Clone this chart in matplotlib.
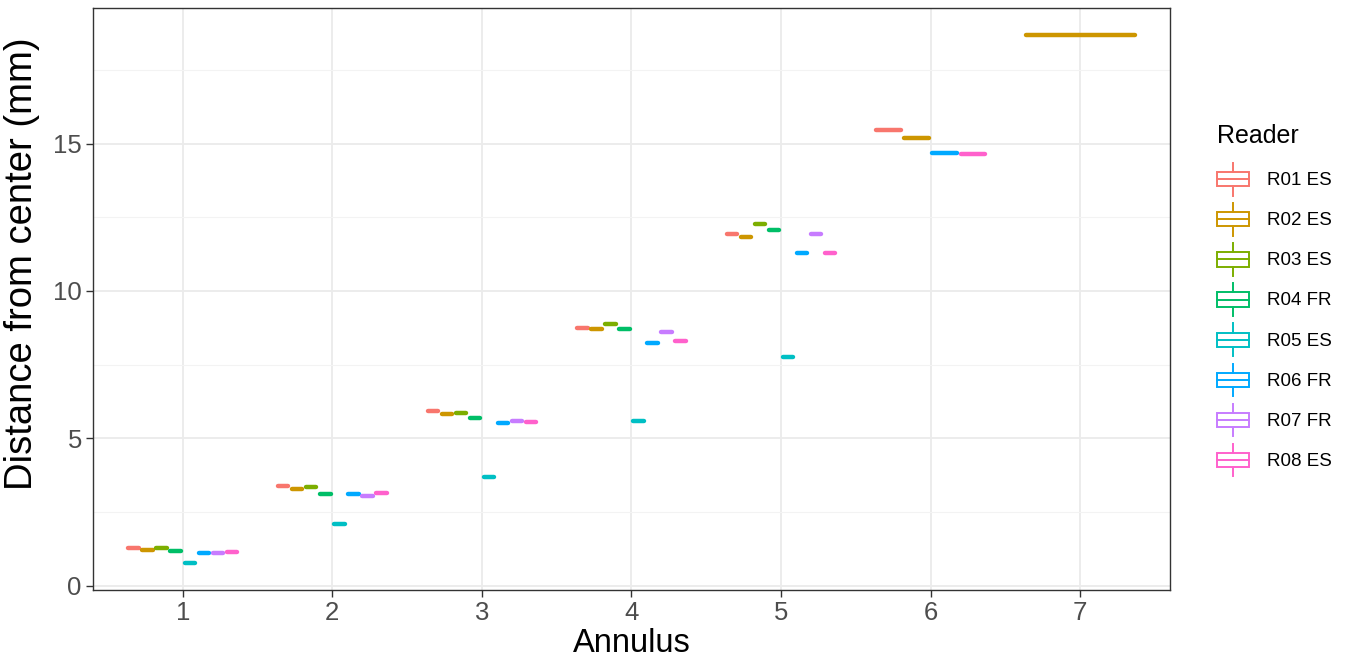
import numpy as np
import matplotlib
matplotlib.use("Agg")
import matplotlib.pyplot as plt
from matplotlib.legend_handler import HandlerBase
from matplotlib.patches import Rectangle
from matplotlib.lines import Line2D

plt.rcParams['font.family'] = ['Liberation Sans', 'DejaVu Sans']

annuli = [1, 2, 3, 4, 5, 6, 7]
readers = ["R01 ES", "R02 ES", "R03 ES", "R04 FR", "R05 ES", "R06 FR", "R07 FR", "R08 ES"]
colors = ["#F8766D", "#CD9600", "#7CAE00", "#00BE67", "#00BFC4", "#00A9FF", "#C77CFF", "#FF61CC"]

nan = np.nan
r01 = [1.29, 3.37, 5.92, 8.74, 11.93, 15.47, nan]
r02 = [1.21, 3.29, 5.83, 8.71, 11.83, 15.18, 18.67]
r03 = [1.29, 3.34, 5.85, 8.88, 12.26, nan, nan]
r04 = [1.16, 3.11, 5.67, 8.71, 12.07, nan, nan]
r05 = [0.76, 2.09, 3.67, 5.58, 7.77, nan, nan]
r06 = [1.12, 3.10, 5.50, 8.22, 11.29, 14.67, nan]
r07 = [1.10, 3.05, 5.59, 8.62, 11.94, nan, nan]
r08 = [1.15, 3.15, 5.54, 8.30, 11.30, 14.63, nan]
values = [r01, r02, r03, r04, r05, r06, r07, r08]


class BoxKey(HandlerBase):
    def create_artists(self, legend, orig, xd, yd, w, h, fontsize, trans):
        c = orig.get_color()
        x0, y0 = -xd, -yd
        box = Rectangle((x0, y0 + h * 0.28), w, h * 0.44, fill=False,
                        edgecolor=c, lw=1.4, transform=trans)
        med = Line2D([x0, x0 + w], [y0 + h * 0.5] * 2, color=c, lw=1.4, transform=trans)
        top = Line2D([x0 + w / 2] * 2, [y0 + h * 0.72, y0 + h * 1.0], color=c, lw=1.4, transform=trans)
        bot = Line2D([x0 + w / 2] * 2, [y0, y0 + h * 0.28], color=c, lw=1.4, transform=trans)
        return [box, med, top, bot]


fig = plt.figure(figsize=(13.55, 6.68), dpi=100)
ax = fig.add_axes([0.0686, 0.1168, 0.7949, 0.8712])

# dodge boxes within each annulus, width 0.75 shared by readers present
for j, a in enumerate(annuli):
    present = [i for i in range(len(readers)) if not np.isnan(values[i][j])]
    w = 0.75 / len(present)
    for k, i in enumerate(present):
        pos = a - 0.375 + (k + 0.5) * w
        half = w / 2 - 0.012
        ax.hlines(values[i][j], pos - half, pos + half, colors=colors[i],
                  linewidth=3.2, capstyle='round', zorder=3)

handles = [Line2D([], [], color=c) for c in colors]

ax.set_xlim(0.4, 7.6)
ax.set_ylim(-0.15, 19.6)
ax.set_xticks(annuli)
ax.set_xticklabels([str(a) for a in annuli])
ax.set_yticks([0, 5, 10, 15])
ax.set_yticks([2.5, 7.5, 12.5, 17.5], minor=True)
ax.grid(True, which='major', color='#EBEBEB', linewidth=1.3, zorder=0)
ax.grid(True, which='minor', axis='y', color='#F3F3F3', linewidth=0.8, zorder=0)
ax.set_axisbelow(True)
for s in ax.spines.values():
    s.set_color('#333333')
    s.set_linewidth(1.0)
ax.tick_params(axis='both', which='major', colors='#333333', length=5, width=1.0,
               labelsize=18.5, labelcolor='#4D4D4D', pad=3)
ax.tick_params(axis='y', which='minor', length=0)
ax.set_xlabel("Annulus", fontsize=23.5, labelpad=2)
ax.set_ylabel("Distance from center (mm)", fontsize=27.5)
ax.yaxis.set_label_coords(-0.049, 0.56)

leg = fig.legend(handles, readers, handler_map={Line2D: BoxKey()},
                 loc='upper left', bbox_to_anchor=(0.891, 0.829),
                 title="Reader", title_fontsize=18, fontsize=13.5, frameon=False,
                 handlelength=1.7, handleheight=2.3, labelspacing=0.4,
                 handletextpad=1.0, borderpad=0)
leg._legend_box.align = "left"
leg._legend_box.sep = 11

fig.savefig("out.png", dpi=100)
